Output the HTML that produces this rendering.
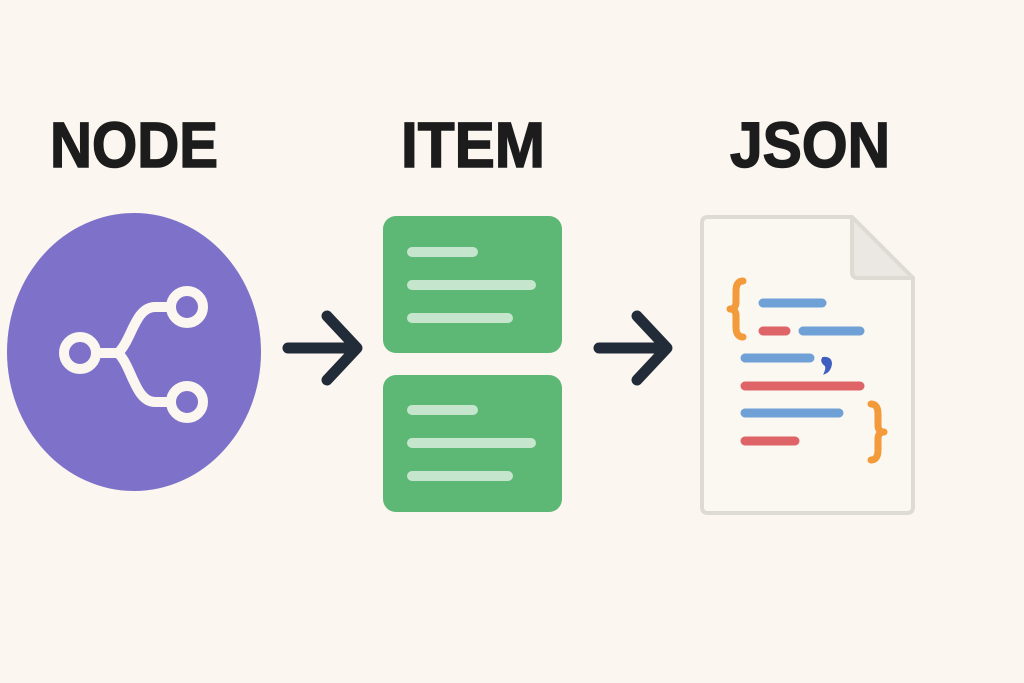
<!DOCTYPE html>
<html><head><style>html,body{margin:0;padding:0;background:#fbf6f0;}svg{display:block}</style></head>
<body>
<svg width="1024" height="683" viewBox="0 0 1024 683" xmlns="http://www.w3.org/2000/svg">
<rect width="1024" height="683" fill="#fbf6f0"/>
<g font-family="Liberation Sans, sans-serif" font-weight="bold" font-size="64" fill="#1c1c1c" stroke="#1c1c1c" stroke-width="1.5">
<text x="50" y="167" textLength="168" lengthAdjust="spacingAndGlyphs">NODE</text>
<text x="401" y="167" textLength="144" lengthAdjust="spacingAndGlyphs">ITEM</text>
<text x="730" y="167" textLength="160" lengthAdjust="spacingAndGlyphs">JSON</text>
</g>
<ellipse cx="134" cy="352" rx="127" ry="139" fill="#7e71c9"/>
<g fill="none" stroke="#fbf6f0" stroke-width="10" stroke-linecap="round">
<circle cx="80" cy="353" r="16"/>
<circle cx="187" cy="307" r="16"/>
<circle cx="187" cy="402" r="16"/>
<path d="M96 353 H118 C132 340 135 307 155 307 H171"/>
<path d="M118 353 C132 366 135 402 155 402 H171"/>
</g>
<g fill="none" stroke="#222b38" stroke-width="11" stroke-linecap="round" stroke-linejoin="round">
<path d="M288 348 H354 M327 316 L357 348 L327 380"/>
<path d="M599 348 H664 M637 316 L667 348 L637 380"/>
</g>
<rect x="383" y="216" width="179" height="137" rx="13" fill="#5cb874"/>
<rect x="383" y="375" width="179" height="137" rx="13" fill="#5cb874"/>
<g stroke="#c5e6cc" stroke-width="10" stroke-linecap="round">
<path d="M412 252 H473 M412 285 H531 M412 318 H508"/>
<path d="M412 410 H473 M412 443 H531 M412 476 H508"/>
</g>
<path d="M708 217 H852 L913 278 V507 Q913 513 907 513 H708 Q702 513 702 507 V223 Q702 217 708 217 Z" fill="#fbf7f1" stroke="#dedad4" stroke-width="4"/>
<path d="M852 217 V272 Q852 278 858 278 H913 Z" fill="#ebe7e2" stroke="#dedad4" stroke-width="4" stroke-linejoin="round"/>
<g stroke-width="9" stroke-linecap="round">
<path d="M763 303 H822 M803 331 H860 M745 358 H810 M745 413 H839" stroke="#6fa0d6"/>
<path d="M763 331 H786 M745 386 H860 M745 441 H795" stroke="#de6467"/>
</g>
<g fill="none" stroke="#f39a3a" stroke-width="7" stroke-linecap="round" stroke-linejoin="round">
<path d="M743 281 Q736 281 736 291 V302 Q736 309 730 309 Q736 309 736 316 V327 Q736 337 743 337"/>
<path d="M871 404 Q878 404 878 414 V425 Q878 432 884 432 Q878 432 878 439 V450 Q878 460 871 460"/>
</g>
<path d="M823 358 Q831 357 831 364 Q830 371 825 373 Q828 366 824 364 Q821 361 823 358 Z" fill="#3f5fc0" stroke="#3f5fc0" stroke-width="2"/>
</svg>
</body></html>
